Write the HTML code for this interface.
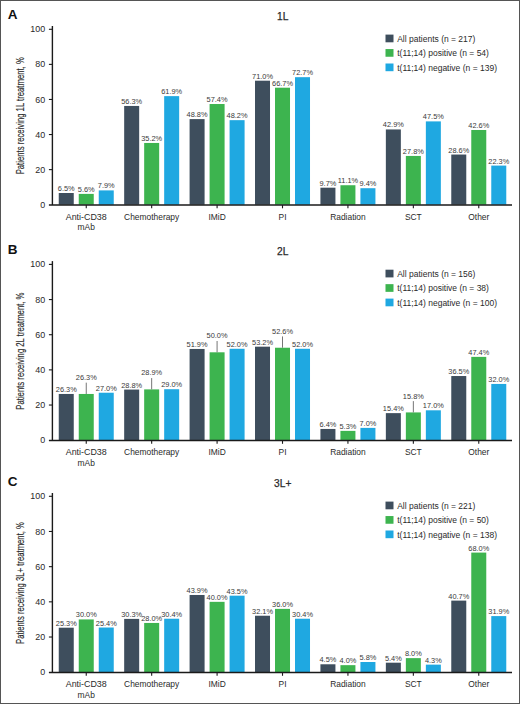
<!DOCTYPE html>
<html><head><meta charset="utf-8"><style>
html,body{margin:0;padding:0;background:#fff;}
#w{position:relative;width:520px;height:704px;box-sizing:border-box;border:1px solid #555;overflow:hidden;background:#fff;}
svg{position:absolute;left:-1px;top:-1px;}
text{font-family:"Liberation Sans", sans-serif;}
</style></head><body><div id="w">
<svg width="520" height="704" viewBox="0 0 520 704">
<text x="7.7" y="18.90" font-size="13.5" font-weight="bold" fill="#111">A</text>
<text x="282.7" y="19.80" font-size="10.2" text-anchor="middle" fill="#2a2a2a" stroke="#2a2a2a" stroke-width="0.25">1L</text>
<text transform="translate(24.0 115.80) rotate(-90) scale(0.757 1)" x="0" y="0" font-size="10.2" text-anchor="middle" fill="#2a2a2a" stroke="#2a2a2a" stroke-width="0.15">Patients receiving 1L treatment, %</text>
<rect x="58.75" y="193.00" width="15" height="11.70" fill="#3e4e5d"/>
<text x="66.25" y="191.00" font-size="7.4" text-anchor="middle" fill="#3a3a3a">6.5%</text>
<rect x="78.75" y="193.90" width="15" height="10.80" fill="#3db44f"/>
<text x="86.25" y="191.90" font-size="7.4" text-anchor="middle" fill="#3a3a3a">5.6%</text>
<rect x="98.75" y="190.40" width="15" height="14.30" fill="#1fa8e1"/>
<text x="106.25" y="188.40" font-size="7.4" text-anchor="middle" fill="#3a3a3a">7.9%</text>
<text transform="translate(86.25 219.80) scale(0.99 1)" font-size="9.0" text-anchor="middle" fill="#2a2a2a">Anti-CD38</text>
<text transform="translate(86.25 230.10) scale(0.935 1)" font-size="9.0" text-anchor="middle" fill="#2a2a2a">mAb</text>
<rect x="124.17" y="105.95" width="15" height="98.75" fill="#3e4e5d"/>
<text x="131.67" y="103.95" font-size="7.4" text-anchor="middle" fill="#3a3a3a">56.3%</text>
<rect x="144.17" y="142.96" width="15" height="61.74" fill="#3db44f"/>
<text x="151.67" y="140.96" font-size="7.4" text-anchor="middle" fill="#3a3a3a">35.2%</text>
<rect x="164.17" y="96.13" width="15" height="108.57" fill="#1fa8e1"/>
<text x="171.67" y="94.13" font-size="7.4" text-anchor="middle" fill="#3a3a3a">61.9%</text>
<text transform="translate(151.67 219.80) scale(0.935 1)" font-size="9.0" text-anchor="middle" fill="#2a2a2a">Chemotherapy</text>
<rect x="189.59" y="119.10" width="15" height="85.60" fill="#3e4e5d"/>
<text x="197.09" y="117.10" font-size="7.4" text-anchor="middle" fill="#3a3a3a">48.8%</text>
<rect x="209.59" y="104.02" width="15" height="100.68" fill="#3db44f"/>
<text x="217.09" y="102.02" font-size="7.4" text-anchor="middle" fill="#3a3a3a">57.4%</text>
<rect x="229.59" y="120.16" width="15" height="84.54" fill="#1fa8e1"/>
<text x="237.09" y="118.16" font-size="7.4" text-anchor="middle" fill="#3a3a3a">48.2%</text>
<text transform="translate(217.09 219.80) scale(0.935 1)" font-size="9.0" text-anchor="middle" fill="#2a2a2a">IMiD</text>
<rect x="255.01" y="80.70" width="15" height="124.00" fill="#3e4e5d"/>
<text x="262.51" y="78.70" font-size="7.4" text-anchor="middle" fill="#3a3a3a">71.0%</text>
<rect x="275.01" y="87.71" width="15" height="116.99" fill="#3db44f"/>
<text x="282.51" y="85.71" font-size="7.4" text-anchor="middle" fill="#3a3a3a">66.7%</text>
<rect x="295.01" y="77.18" width="15" height="127.52" fill="#1fa8e1"/>
<text x="302.51" y="75.18" font-size="7.4" text-anchor="middle" fill="#3a3a3a">72.7%</text>
<text transform="translate(282.51 219.80) scale(0.935 1)" font-size="9.0" text-anchor="middle" fill="#2a2a2a">PI</text>
<rect x="320.43" y="187.69" width="15" height="17.01" fill="#3e4e5d"/>
<text x="327.93" y="185.69" font-size="7.4" text-anchor="middle" fill="#3a3a3a">9.7%</text>
<rect x="340.43" y="185.23" width="15" height="19.47" fill="#3db44f"/>
<text x="347.93" y="183.23" font-size="7.4" text-anchor="middle" fill="#3a3a3a">11.1%</text>
<rect x="360.43" y="188.21" width="15" height="16.49" fill="#1fa8e1"/>
<text x="367.93" y="186.21" font-size="7.4" text-anchor="middle" fill="#3a3a3a">9.4%</text>
<text transform="translate(347.93 219.80) scale(0.935 1)" font-size="9.0" text-anchor="middle" fill="#2a2a2a">Radiation</text>
<rect x="385.85" y="129.45" width="15" height="75.25" fill="#3e4e5d"/>
<text x="393.35" y="127.45" font-size="7.4" text-anchor="middle" fill="#3a3a3a">42.9%</text>
<rect x="405.85" y="155.94" width="15" height="48.76" fill="#3db44f"/>
<text x="413.35" y="153.94" font-size="7.4" text-anchor="middle" fill="#3a3a3a">27.8%</text>
<rect x="425.85" y="121.39" width="15" height="83.31" fill="#1fa8e1"/>
<text x="433.35" y="119.39" font-size="7.4" text-anchor="middle" fill="#3a3a3a">47.5%</text>
<text transform="translate(413.35 219.80) scale(0.935 1)" font-size="9.0" text-anchor="middle" fill="#2a2a2a">SCT</text>
<rect x="451.27" y="154.54" width="15" height="50.16" fill="#3e4e5d"/>
<text x="458.77" y="152.54" font-size="7.4" text-anchor="middle" fill="#3a3a3a">28.6%</text>
<rect x="471.27" y="129.98" width="15" height="74.72" fill="#3db44f"/>
<text x="478.77" y="127.98" font-size="7.4" text-anchor="middle" fill="#3a3a3a">42.6%</text>
<rect x="491.27" y="165.59" width="15" height="39.11" fill="#1fa8e1"/>
<text x="498.77" y="163.59" font-size="7.4" text-anchor="middle" fill="#3a3a3a">22.3%</text>
<text transform="translate(478.77 219.80) scale(0.935 1)" font-size="9.0" text-anchor="middle" fill="#2a2a2a">Other</text>
<line x1="52.4" y1="26.00" x2="52.4" y2="205.00" stroke="#1a1a1a" stroke-width="1.4"/>
<line x1="48.90" y1="205.00" x2="512" y2="205.00" stroke="#1a1a1a" stroke-width="1.6"/>
<line x1="86.25" y1="205.00" x2="86.25" y2="208.30" stroke="#1a1a1a" stroke-width="1.1"/>
<line x1="151.67" y1="205.00" x2="151.67" y2="208.30" stroke="#1a1a1a" stroke-width="1.1"/>
<line x1="217.09" y1="205.00" x2="217.09" y2="208.30" stroke="#1a1a1a" stroke-width="1.1"/>
<line x1="282.51" y1="205.00" x2="282.51" y2="208.30" stroke="#1a1a1a" stroke-width="1.1"/>
<line x1="347.93" y1="205.00" x2="347.93" y2="208.30" stroke="#1a1a1a" stroke-width="1.1"/>
<line x1="413.35" y1="205.00" x2="413.35" y2="208.30" stroke="#1a1a1a" stroke-width="1.1"/>
<line x1="478.77" y1="205.00" x2="478.77" y2="208.30" stroke="#1a1a1a" stroke-width="1.1"/>
<text transform="translate(45.10 207.75) scale(0.93 1)" font-size="9.6" text-anchor="end" fill="#2a2a2a">0</text>
<line x1="48.90" y1="169.62" x2="52.4" y2="169.62" stroke="#1a1a1a" stroke-width="1.1"/>
<text transform="translate(45.10 172.67) scale(0.93 1)" font-size="9.6" text-anchor="end" fill="#2a2a2a">20</text>
<line x1="48.90" y1="134.54" x2="52.4" y2="134.54" stroke="#1a1a1a" stroke-width="1.1"/>
<text transform="translate(45.10 137.59) scale(0.93 1)" font-size="9.6" text-anchor="end" fill="#2a2a2a">40</text>
<line x1="48.90" y1="99.46" x2="52.4" y2="99.46" stroke="#1a1a1a" stroke-width="1.1"/>
<text transform="translate(45.10 102.51) scale(0.93 1)" font-size="9.6" text-anchor="end" fill="#2a2a2a">60</text>
<line x1="48.90" y1="64.38" x2="52.4" y2="64.38" stroke="#1a1a1a" stroke-width="1.1"/>
<text transform="translate(45.10 67.43) scale(0.93 1)" font-size="9.6" text-anchor="end" fill="#2a2a2a">80</text>
<line x1="48.90" y1="29.30" x2="52.4" y2="29.30" stroke="#1a1a1a" stroke-width="1.1"/>
<text transform="translate(45.10 32.35) scale(0.93 1)" font-size="9.6" text-anchor="end" fill="#2a2a2a">100</text>
<rect x="385.5" y="34.60" width="8" height="7.7" fill="#3e4e5d"/>
<text x="397.2" y="41.80" font-size="8.5" fill="#2a2a2a">All patients (n = 217)</text>
<rect x="385.5" y="49.05" width="8" height="7.7" fill="#3db44f"/>
<text x="397.2" y="56.25" font-size="8.5" fill="#2a2a2a">t(11;14) positive (n = 54)</text>
<rect x="385.5" y="63.50" width="8" height="7.7" fill="#1fa8e1"/>
<text x="397.2" y="70.70" font-size="8.5" fill="#2a2a2a">t(11;14) negative (n = 139)</text>
<text x="7.7" y="254.00" font-size="13.5" font-weight="bold" fill="#111">B</text>
<text x="282.7" y="254.90" font-size="10.2" text-anchor="middle" fill="#2a2a2a" stroke="#2a2a2a" stroke-width="0.25">2L</text>
<text transform="translate(24.0 351.10) rotate(-90) scale(0.757 1)" x="0" y="0" font-size="10.2" text-anchor="middle" fill="#2a2a2a" stroke="#2a2a2a" stroke-width="0.15">Patients receiving 2L treatment, %</text>
<rect x="58.75" y="393.96" width="15" height="46.24" fill="#3e4e5d"/>
<text x="66.25" y="391.96" font-size="7.4" text-anchor="middle" fill="#3a3a3a">26.3%</text>
<rect x="78.75" y="393.96" width="15" height="46.24" fill="#3db44f"/>
<line x1="86.25" y1="382.66" x2="86.25" y2="393.96" stroke="#666" stroke-width="0.9"/>
<text x="86.25" y="380.06" font-size="7.4" text-anchor="middle" fill="#3a3a3a">26.3%</text>
<rect x="98.75" y="392.73" width="15" height="47.47" fill="#1fa8e1"/>
<text x="106.25" y="390.73" font-size="7.4" text-anchor="middle" fill="#3a3a3a">27.0%</text>
<text transform="translate(86.25 455.30) scale(0.99 1)" font-size="9.0" text-anchor="middle" fill="#2a2a2a">Anti-CD38</text>
<text transform="translate(86.25 465.60) scale(0.935 1)" font-size="9.0" text-anchor="middle" fill="#2a2a2a">mAb</text>
<rect x="124.17" y="389.57" width="15" height="50.63" fill="#3e4e5d"/>
<text x="131.67" y="387.57" font-size="7.4" text-anchor="middle" fill="#3a3a3a">28.8%</text>
<rect x="144.17" y="389.39" width="15" height="50.81" fill="#3db44f"/>
<line x1="151.67" y1="378.09" x2="151.67" y2="389.39" stroke="#666" stroke-width="0.9"/>
<text x="151.67" y="375.49" font-size="7.4" text-anchor="middle" fill="#3a3a3a">28.9%</text>
<rect x="164.17" y="389.22" width="15" height="50.98" fill="#1fa8e1"/>
<text x="171.67" y="387.22" font-size="7.4" text-anchor="middle" fill="#3a3a3a">29.0%</text>
<text transform="translate(151.67 455.30) scale(0.935 1)" font-size="9.0" text-anchor="middle" fill="#2a2a2a">Chemotherapy</text>
<rect x="189.59" y="348.96" width="15" height="91.24" fill="#3e4e5d"/>
<text x="197.09" y="346.96" font-size="7.4" text-anchor="middle" fill="#3a3a3a">51.9%</text>
<rect x="209.59" y="352.30" width="15" height="87.90" fill="#3db44f"/>
<line x1="217.09" y1="341.00" x2="217.09" y2="352.30" stroke="#666" stroke-width="0.9"/>
<text x="217.09" y="338.40" font-size="7.4" text-anchor="middle" fill="#3a3a3a">50.0%</text>
<rect x="229.59" y="348.78" width="15" height="91.42" fill="#1fa8e1"/>
<text x="237.09" y="346.78" font-size="7.4" text-anchor="middle" fill="#3a3a3a">52.0%</text>
<text transform="translate(217.09 455.30) scale(0.935 1)" font-size="9.0" text-anchor="middle" fill="#2a2a2a">IMiD</text>
<rect x="255.01" y="346.67" width="15" height="93.53" fill="#3e4e5d"/>
<text x="262.51" y="344.67" font-size="7.4" text-anchor="middle" fill="#3a3a3a">53.2%</text>
<rect x="275.01" y="347.73" width="15" height="92.47" fill="#3db44f"/>
<line x1="282.51" y1="336.43" x2="282.51" y2="347.73" stroke="#666" stroke-width="0.9"/>
<text x="282.51" y="333.83" font-size="7.4" text-anchor="middle" fill="#3a3a3a">52.6%</text>
<rect x="295.01" y="348.78" width="15" height="91.42" fill="#1fa8e1"/>
<text x="302.51" y="346.78" font-size="7.4" text-anchor="middle" fill="#3a3a3a">52.0%</text>
<text transform="translate(282.51 455.30) scale(0.935 1)" font-size="9.0" text-anchor="middle" fill="#2a2a2a">PI</text>
<rect x="320.43" y="428.95" width="15" height="11.25" fill="#3e4e5d"/>
<text x="327.93" y="426.95" font-size="7.4" text-anchor="middle" fill="#3a3a3a">6.4%</text>
<rect x="340.43" y="430.88" width="15" height="9.32" fill="#3db44f"/>
<text x="347.93" y="428.88" font-size="7.4" text-anchor="middle" fill="#3a3a3a">5.3%</text>
<rect x="360.43" y="427.89" width="15" height="12.31" fill="#1fa8e1"/>
<text x="367.93" y="425.89" font-size="7.4" text-anchor="middle" fill="#3a3a3a">7.0%</text>
<text transform="translate(347.93 455.30) scale(0.935 1)" font-size="9.0" text-anchor="middle" fill="#2a2a2a">Radiation</text>
<rect x="385.85" y="413.13" width="15" height="27.07" fill="#3e4e5d"/>
<text x="393.35" y="411.13" font-size="7.4" text-anchor="middle" fill="#3a3a3a">15.4%</text>
<rect x="405.85" y="412.42" width="15" height="27.78" fill="#3db44f"/>
<line x1="413.35" y1="401.12" x2="413.35" y2="412.42" stroke="#666" stroke-width="0.9"/>
<text x="413.35" y="398.52" font-size="7.4" text-anchor="middle" fill="#3a3a3a">15.8%</text>
<rect x="425.85" y="410.31" width="15" height="29.89" fill="#1fa8e1"/>
<text x="433.35" y="408.31" font-size="7.4" text-anchor="middle" fill="#3a3a3a">17.0%</text>
<text transform="translate(413.35 455.30) scale(0.935 1)" font-size="9.0" text-anchor="middle" fill="#2a2a2a">SCT</text>
<rect x="451.27" y="376.03" width="15" height="64.17" fill="#3e4e5d"/>
<text x="458.77" y="374.03" font-size="7.4" text-anchor="middle" fill="#3a3a3a">36.5%</text>
<rect x="471.27" y="356.87" width="15" height="83.33" fill="#3db44f"/>
<text x="478.77" y="354.87" font-size="7.4" text-anchor="middle" fill="#3a3a3a">47.4%</text>
<rect x="491.27" y="383.94" width="15" height="56.26" fill="#1fa8e1"/>
<text x="498.77" y="381.94" font-size="7.4" text-anchor="middle" fill="#3a3a3a">32.0%</text>
<text transform="translate(478.77 455.30) scale(0.935 1)" font-size="9.0" text-anchor="middle" fill="#2a2a2a">Other</text>
<line x1="52.4" y1="261.10" x2="52.4" y2="440.50" stroke="#1a1a1a" stroke-width="1.4"/>
<line x1="48.90" y1="440.50" x2="512" y2="440.50" stroke="#1a1a1a" stroke-width="1.6"/>
<line x1="86.25" y1="440.50" x2="86.25" y2="443.80" stroke="#1a1a1a" stroke-width="1.1"/>
<line x1="151.67" y1="440.50" x2="151.67" y2="443.80" stroke="#1a1a1a" stroke-width="1.1"/>
<line x1="217.09" y1="440.50" x2="217.09" y2="443.80" stroke="#1a1a1a" stroke-width="1.1"/>
<line x1="282.51" y1="440.50" x2="282.51" y2="443.80" stroke="#1a1a1a" stroke-width="1.1"/>
<line x1="347.93" y1="440.50" x2="347.93" y2="443.80" stroke="#1a1a1a" stroke-width="1.1"/>
<line x1="413.35" y1="440.50" x2="413.35" y2="443.80" stroke="#1a1a1a" stroke-width="1.1"/>
<line x1="478.77" y1="440.50" x2="478.77" y2="443.80" stroke="#1a1a1a" stroke-width="1.1"/>
<text transform="translate(45.10 443.25) scale(0.93 1)" font-size="9.6" text-anchor="end" fill="#2a2a2a">0</text>
<line x1="48.90" y1="405.04" x2="52.4" y2="405.04" stroke="#1a1a1a" stroke-width="1.1"/>
<text transform="translate(45.10 408.09) scale(0.93 1)" font-size="9.6" text-anchor="end" fill="#2a2a2a">20</text>
<line x1="48.90" y1="369.88" x2="52.4" y2="369.88" stroke="#1a1a1a" stroke-width="1.1"/>
<text transform="translate(45.10 372.93) scale(0.93 1)" font-size="9.6" text-anchor="end" fill="#2a2a2a">40</text>
<line x1="48.90" y1="334.72" x2="52.4" y2="334.72" stroke="#1a1a1a" stroke-width="1.1"/>
<text transform="translate(45.10 337.77) scale(0.93 1)" font-size="9.6" text-anchor="end" fill="#2a2a2a">60</text>
<line x1="48.90" y1="299.56" x2="52.4" y2="299.56" stroke="#1a1a1a" stroke-width="1.1"/>
<text transform="translate(45.10 302.61) scale(0.93 1)" font-size="9.6" text-anchor="end" fill="#2a2a2a">80</text>
<line x1="48.90" y1="264.40" x2="52.4" y2="264.40" stroke="#1a1a1a" stroke-width="1.1"/>
<text transform="translate(45.10 267.45) scale(0.93 1)" font-size="9.6" text-anchor="end" fill="#2a2a2a">100</text>
<rect x="385.5" y="269.70" width="8" height="7.7" fill="#3e4e5d"/>
<text x="397.2" y="276.90" font-size="8.5" fill="#2a2a2a">All patients (n = 156)</text>
<rect x="385.5" y="284.15" width="8" height="7.7" fill="#3db44f"/>
<text x="397.2" y="291.35" font-size="8.5" fill="#2a2a2a">t(11;14) positive (n = 38)</text>
<rect x="385.5" y="298.60" width="8" height="7.7" fill="#1fa8e1"/>
<text x="397.2" y="305.80" font-size="8.5" fill="#2a2a2a">t(11;14) negative (n = 100)</text>
<text x="7.7" y="485.90" font-size="13.5" font-weight="bold" fill="#111">C</text>
<text x="282.7" y="486.80" font-size="10.2" text-anchor="middle" fill="#2a2a2a" stroke="#2a2a2a" stroke-width="0.25">3L+</text>
<text transform="translate(24.0 583.05) rotate(-90) scale(0.757 1)" x="0" y="0" font-size="10.2" text-anchor="middle" fill="#2a2a2a" stroke="#2a2a2a" stroke-width="0.15">Patients receiving 3L+ treatment, %</text>
<rect x="58.75" y="627.70" width="15" height="44.50" fill="#3e4e5d"/>
<text x="66.25" y="625.70" font-size="7.4" text-anchor="middle" fill="#3a3a3a">25.3%</text>
<rect x="78.75" y="619.43" width="15" height="52.77" fill="#3db44f"/>
<text x="86.25" y="617.43" font-size="7.4" text-anchor="middle" fill="#3a3a3a">30.0%</text>
<rect x="98.75" y="627.52" width="15" height="44.68" fill="#1fa8e1"/>
<text x="106.25" y="625.52" font-size="7.4" text-anchor="middle" fill="#3a3a3a">25.4%</text>
<text transform="translate(86.25 687.30) scale(0.99 1)" font-size="9.0" text-anchor="middle" fill="#2a2a2a">Anti-CD38</text>
<text transform="translate(86.25 697.60) scale(0.935 1)" font-size="9.0" text-anchor="middle" fill="#2a2a2a">mAb</text>
<rect x="124.17" y="618.90" width="15" height="53.30" fill="#3e4e5d"/>
<text x="131.67" y="616.90" font-size="7.4" text-anchor="middle" fill="#3a3a3a">30.3%</text>
<rect x="144.17" y="622.95" width="15" height="49.25" fill="#3db44f"/>
<text x="151.67" y="620.95" font-size="7.4" text-anchor="middle" fill="#3a3a3a">28.0%</text>
<rect x="164.17" y="618.73" width="15" height="53.47" fill="#1fa8e1"/>
<text x="171.67" y="616.73" font-size="7.4" text-anchor="middle" fill="#3a3a3a">30.4%</text>
<text transform="translate(151.67 687.30) scale(0.935 1)" font-size="9.0" text-anchor="middle" fill="#2a2a2a">Chemotherapy</text>
<rect x="189.59" y="594.98" width="15" height="77.22" fill="#3e4e5d"/>
<text x="197.09" y="592.98" font-size="7.4" text-anchor="middle" fill="#3a3a3a">43.9%</text>
<rect x="209.59" y="601.84" width="15" height="70.36" fill="#3db44f"/>
<text x="217.09" y="599.84" font-size="7.4" text-anchor="middle" fill="#3a3a3a">40.0%</text>
<rect x="229.59" y="595.68" width="15" height="76.52" fill="#1fa8e1"/>
<text x="237.09" y="593.68" font-size="7.4" text-anchor="middle" fill="#3a3a3a">43.5%</text>
<text transform="translate(217.09 687.30) scale(0.935 1)" font-size="9.0" text-anchor="middle" fill="#2a2a2a">IMiD</text>
<rect x="255.01" y="615.74" width="15" height="56.46" fill="#3e4e5d"/>
<text x="262.51" y="613.74" font-size="7.4" text-anchor="middle" fill="#3a3a3a">32.1%</text>
<rect x="275.01" y="608.88" width="15" height="63.32" fill="#3db44f"/>
<text x="282.51" y="606.88" font-size="7.4" text-anchor="middle" fill="#3a3a3a">36.0%</text>
<rect x="295.01" y="618.73" width="15" height="53.47" fill="#1fa8e1"/>
<text x="302.51" y="616.73" font-size="7.4" text-anchor="middle" fill="#3a3a3a">30.4%</text>
<text transform="translate(282.51 687.30) scale(0.935 1)" font-size="9.0" text-anchor="middle" fill="#2a2a2a">PI</text>
<rect x="320.43" y="664.28" width="15" height="7.92" fill="#3e4e5d"/>
<text x="327.93" y="662.28" font-size="7.4" text-anchor="middle" fill="#3a3a3a">4.5%</text>
<rect x="340.43" y="665.16" width="15" height="7.04" fill="#3db44f"/>
<text x="347.93" y="663.16" font-size="7.4" text-anchor="middle" fill="#3a3a3a">4.0%</text>
<rect x="360.43" y="662.00" width="15" height="10.20" fill="#1fa8e1"/>
<text x="367.93" y="660.00" font-size="7.4" text-anchor="middle" fill="#3a3a3a">5.8%</text>
<text transform="translate(347.93 687.30) scale(0.935 1)" font-size="9.0" text-anchor="middle" fill="#2a2a2a">Radiation</text>
<rect x="385.85" y="662.70" width="15" height="9.50" fill="#3e4e5d"/>
<text x="393.35" y="660.70" font-size="7.4" text-anchor="middle" fill="#3a3a3a">5.4%</text>
<rect x="405.85" y="658.13" width="15" height="14.07" fill="#3db44f"/>
<text x="413.35" y="656.13" font-size="7.4" text-anchor="middle" fill="#3a3a3a">8.0%</text>
<rect x="425.85" y="664.64" width="15" height="7.56" fill="#1fa8e1"/>
<text x="433.35" y="662.64" font-size="7.4" text-anchor="middle" fill="#3a3a3a">4.3%</text>
<text transform="translate(413.35 687.30) scale(0.935 1)" font-size="9.0" text-anchor="middle" fill="#2a2a2a">SCT</text>
<rect x="451.27" y="600.61" width="15" height="71.59" fill="#3e4e5d"/>
<text x="458.77" y="598.61" font-size="7.4" text-anchor="middle" fill="#3a3a3a">40.7%</text>
<rect x="471.27" y="552.59" width="15" height="119.61" fill="#3db44f"/>
<text x="478.77" y="550.59" font-size="7.4" text-anchor="middle" fill="#3a3a3a">68.0%</text>
<rect x="491.27" y="616.09" width="15" height="56.11" fill="#1fa8e1"/>
<text x="498.77" y="614.09" font-size="7.4" text-anchor="middle" fill="#3a3a3a">31.9%</text>
<text transform="translate(478.77 687.30) scale(0.935 1)" font-size="9.0" text-anchor="middle" fill="#2a2a2a">Other</text>
<line x1="52.4" y1="493.00" x2="52.4" y2="672.50" stroke="#1a1a1a" stroke-width="1.4"/>
<line x1="48.90" y1="672.50" x2="512" y2="672.50" stroke="#1a1a1a" stroke-width="1.6"/>
<line x1="86.25" y1="672.50" x2="86.25" y2="675.80" stroke="#1a1a1a" stroke-width="1.1"/>
<line x1="151.67" y1="672.50" x2="151.67" y2="675.80" stroke="#1a1a1a" stroke-width="1.1"/>
<line x1="217.09" y1="672.50" x2="217.09" y2="675.80" stroke="#1a1a1a" stroke-width="1.1"/>
<line x1="282.51" y1="672.50" x2="282.51" y2="675.80" stroke="#1a1a1a" stroke-width="1.1"/>
<line x1="347.93" y1="672.50" x2="347.93" y2="675.80" stroke="#1a1a1a" stroke-width="1.1"/>
<line x1="413.35" y1="672.50" x2="413.35" y2="675.80" stroke="#1a1a1a" stroke-width="1.1"/>
<line x1="478.77" y1="672.50" x2="478.77" y2="675.80" stroke="#1a1a1a" stroke-width="1.1"/>
<text transform="translate(45.10 675.25) scale(0.93 1)" font-size="9.6" text-anchor="end" fill="#2a2a2a">0</text>
<line x1="48.90" y1="637.02" x2="52.4" y2="637.02" stroke="#1a1a1a" stroke-width="1.1"/>
<text transform="translate(45.10 640.07) scale(0.93 1)" font-size="9.6" text-anchor="end" fill="#2a2a2a">20</text>
<line x1="48.90" y1="601.84" x2="52.4" y2="601.84" stroke="#1a1a1a" stroke-width="1.1"/>
<text transform="translate(45.10 604.89) scale(0.93 1)" font-size="9.6" text-anchor="end" fill="#2a2a2a">40</text>
<line x1="48.90" y1="566.66" x2="52.4" y2="566.66" stroke="#1a1a1a" stroke-width="1.1"/>
<text transform="translate(45.10 569.71) scale(0.93 1)" font-size="9.6" text-anchor="end" fill="#2a2a2a">60</text>
<line x1="48.90" y1="531.48" x2="52.4" y2="531.48" stroke="#1a1a1a" stroke-width="1.1"/>
<text transform="translate(45.10 534.53) scale(0.93 1)" font-size="9.6" text-anchor="end" fill="#2a2a2a">80</text>
<line x1="48.90" y1="496.30" x2="52.4" y2="496.30" stroke="#1a1a1a" stroke-width="1.1"/>
<text transform="translate(45.10 499.35) scale(0.93 1)" font-size="9.6" text-anchor="end" fill="#2a2a2a">100</text>
<rect x="385.5" y="501.60" width="8" height="7.7" fill="#3e4e5d"/>
<text x="397.2" y="508.80" font-size="8.5" fill="#2a2a2a">All patients (n = 221)</text>
<rect x="385.5" y="516.05" width="8" height="7.7" fill="#3db44f"/>
<text x="397.2" y="523.25" font-size="8.5" fill="#2a2a2a">t(11;14) positive (n = 50)</text>
<rect x="385.5" y="530.50" width="8" height="7.7" fill="#1fa8e1"/>
<text x="397.2" y="537.70" font-size="8.5" fill="#2a2a2a">t(11;14) negative (n = 138)</text>
</svg></div></body></html>
